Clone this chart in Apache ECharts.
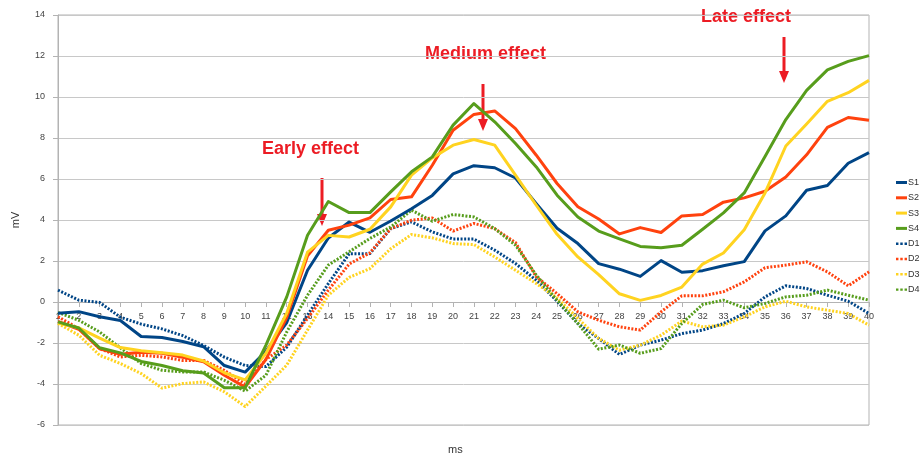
<!DOCTYPE html>
<html>
<head>
<meta charset="utf-8">
<script src="https://cdn.jsdelivr.net/npm/echarts@6/dist/echarts.min.js"></script>
<style>
  html, body { margin: 0; padding: 0; background: #fff; }
  #chart { width: 922px; height: 455px; }
</style>
</head>
<body>
<div id="chart"></div>
<script>
// Time samples (ms) along the x axis
const categories = [];
for (let i = 1; i <= 40; i++) categories.push(String(i));

// Amplitudes in mV
const S1 = [-0.55,-0.47,-0.72,-0.9,-1.68,-1.73,-1.93,-2.18,-3.1,-3.42,-2.4,-1.0,1.55,3.12,3.9,3.4,3.95,4.55,5.2,6.25,6.65,6.55,6.05,4.8,3.6,2.85,1.87,1.6,1.25,2.02,1.45,1.53,1.77,1.97,3.47,4.2,5.45,5.68,6.77,7.29];
const S2 = [-0.95,-1.33,-2.28,-2.55,-2.45,-2.5,-2.7,-2.92,-3.57,-4.15,-2.8,-0.75,2.25,3.5,3.75,4.1,5.0,5.13,6.67,8.38,9.15,9.32,8.46,7.16,5.78,4.65,4.05,3.32,3.63,3.39,4.2,4.27,4.87,5.08,5.4,6.1,7.18,8.52,9.0,8.87];
const S3 = [-1.03,-1.26,-1.76,-2.22,-2.38,-2.48,-2.59,-2.88,-3.45,-3.8,-2.5,-0.55,2.43,3.25,3.17,3.55,4.64,6.19,7.03,7.65,7.93,7.65,6.19,4.72,3.3,2.2,1.34,0.4,0.08,0.32,0.73,1.85,2.39,3.52,5.32,7.61,8.68,9.79,10.21,10.81];
const S4 = [-0.97,-1.27,-2.23,-2.48,-2.9,-3.1,-3.35,-3.46,-4.18,-4.18,-2.1,0.25,3.26,4.9,4.36,4.36,5.37,6.35,7.08,8.63,9.68,8.79,7.73,6.59,5.21,4.15,3.46,3.08,2.71,2.65,2.77,3.55,4.35,5.32,7.1,8.9,10.32,11.32,11.74,12.02];
const D1 = [0.58,0.09,-0.02,-0.74,-1.08,-1.31,-1.64,-2.12,-2.69,-3.1,-3.15,-2.2,-0.64,0.9,2.35,2.36,3.58,3.91,3.42,3.07,3.07,2.53,1.88,1.06,0.04,-1.05,-1.78,-2.56,-2.1,-1.86,-1.54,-1.37,-1.05,-0.56,0.25,0.79,0.66,0.33,0.04,-0.56];
const D2 = [-0.72,-1.3,-2.27,-2.68,-2.6,-2.68,-2.85,-2.85,-3.33,-4.0,-2.8,-2.1,-0.8,0.58,1.85,2.4,3.58,3.99,4.1,3.46,3.83,3.58,2.9,1.23,0.41,-0.48,-0.89,-1.21,-1.37,-0.48,0.3,0.3,0.5,0.98,1.67,1.8,1.96,1.47,0.79,1.47];
const D3 = [-1.05,-1.62,-2.6,-3.0,-3.49,-4.2,-3.98,-3.9,-4.38,-5.1,-4.1,-3.08,-1.37,0.33,1.2,1.63,2.6,3.29,3.13,2.85,2.8,2.2,1.55,0.9,0.2,-0.8,-1.78,-2.35,-2.1,-1.62,-0.93,-1.21,-1.13,-0.72,-0.24,0.04,-0.24,-0.4,-0.56,-1.13];
const D4 = [-0.51,-0.89,-1.46,-2.24,-3.0,-3.33,-3.41,-3.41,-3.82,-4.35,-3.57,-1.46,0.33,1.8,2.45,3.1,3.66,4.48,3.94,4.27,4.15,3.58,2.77,1.31,0.09,-1.05,-2.3,-2.1,-2.5,-2.27,-1.05,-0.12,0.09,-0.28,-0.07,0.25,0.33,0.58,0.33,0.09];

const seriesNames = ['S1','S2','S3','S4','D1','D2','D3','D4'];
const seriesData = [S1, S2, S3, S4, D1, D2, D3, D4];
const palette = ['#004586', '#ff420e', '#ffd320', '#579d1c'];

const annotations = ['Early effect', 'Medium effect', 'Late effect'];

// value axis range
const yMin = -6, yMax = 14, yStep = 2;

// legend keys: a solid bar for S*, a row of dots for D*
const solidIcon = 'rect';
const dottedIcon = 'path://M0,0h2v2h-2zM3.5,0h2v2h-2zM7,0h2v2h-2z';

// plot area box
const gridTop = 15, gridBottom = 30, chartHeight = 455;
const plotHeight = chartHeight - gridTop - gridBottom;
// lift the category axis from the bottom edge up to the zero line
const zeroOffset = -plotHeight * (0 - yMin) / (yMax - yMin);

const chart = echarts.init(document.getElementById('chart'), null, { renderer: 'canvas' });

const series = seriesNames.map((name, i) => ({
  name: name,
  type: 'line',
  data: seriesData[i],
  symbol: 'none',
  smooth: false,
  z: i < 4 ? 3 : 2,
  lineStyle: {
    color: palette[i % 4],
    width: 3,
    type: i < 4 ? 'solid' : [2, 1.6],
    cap: 'butt',
    join: 'round'
  },
  itemStyle: { color: palette[i % 4] }
}));

const red = '#ec1c24';
function arrow(x, y1, y2) {
  return {
    type: 'group',
    children: [
      { type: 'line', shape: { x1: x, y1: y1, x2: x, y2: y2 - 10 }, style: { stroke: red, lineWidth: 3 } },
      { type: 'polygon', shape: { points: [[x - 5, y2 - 12], [x + 5, y2 - 12], [x, y2]] }, style: { fill: red } }
    ]
  };
}
function label(text, x, y) {
  return {
    type: 'text', left: x, top: y,
    style: { text: text, fill: red, font: 'bold 18px "Liberation Sans", Arial, sans-serif' }
  };
}

chart.setOption({
  animation: false,
  backgroundColor: '#ffffff',
  textStyle: { fontFamily: '"Liberation Sans", Arial, sans-serif' },
  grid: {
    left: 58, right: 53, top: gridTop, bottom: gridBottom,
    outerBoundsMode: 'none',
    containLabel: false,
    show: true, borderColor: '#b3b3b3', borderWidth: 1
  },
  legend: {
    orient: 'vertical',
    left: 896, top: 178,
    padding: 0,
    itemWidth: 11, itemHeight: 3, itemGap: 6.3,
    textStyle: { fontSize: 9, lineHeight: 9, color: '#333', padding: [0, 0, 0, -4] },
    data: seriesNames.map((n, i) => ({ name: n, icon: i < 4 ? solidIcon : dottedIcon }))
  },
  xAxis: {
    type: 'category',
    data: categories,
    boundaryGap: false,
    offset: zeroOffset,
    axisLine: { onZero: false, lineStyle: { color: '#b3b3b3', width: 1 } },
    axisTick: { show: true, length: 5, interval: 0, lineStyle: { color: '#b3b3b3' } },
    axisLabel: { fontSize: 9, color: '#444', interval: 0, margin: 10 },
    splitLine: { show: false }
  },
  yAxis: {
    type: 'value',
    min: yMin, max: yMax, interval: yStep,
    name: 'mV',
    nameLocation: 'middle',
    nameGap: 37,
    nameTextStyle: { fontSize: 11, color: '#333' },
    axisLine: { show: true, lineStyle: { color: '#b3b3b3', width: 1 } },
    axisTick: { show: true, length: 5, lineStyle: { color: '#b3b3b3' } },
    axisLabel: { fontSize: 9, color: '#444', margin: 13 },
    splitLine: { show: true, lineStyle: { color: '#c8c8c8', width: 1 } }
  },
  series: series,
  graphic: [
    { type: 'text', left: 448, top: 444, style: { text: 'ms', fill: '#333', font: '11px "Liberation Sans", Arial, sans-serif' } },
    label(annotations[0], 262, 140),
    arrow(322, 178, 226),
    label(annotations[1], 425, 45),
    arrow(483, 84, 131),
    label(annotations[2], 701, 8),
    arrow(784, 37, 83)
  ]
});
</script>
</body>
</html>
